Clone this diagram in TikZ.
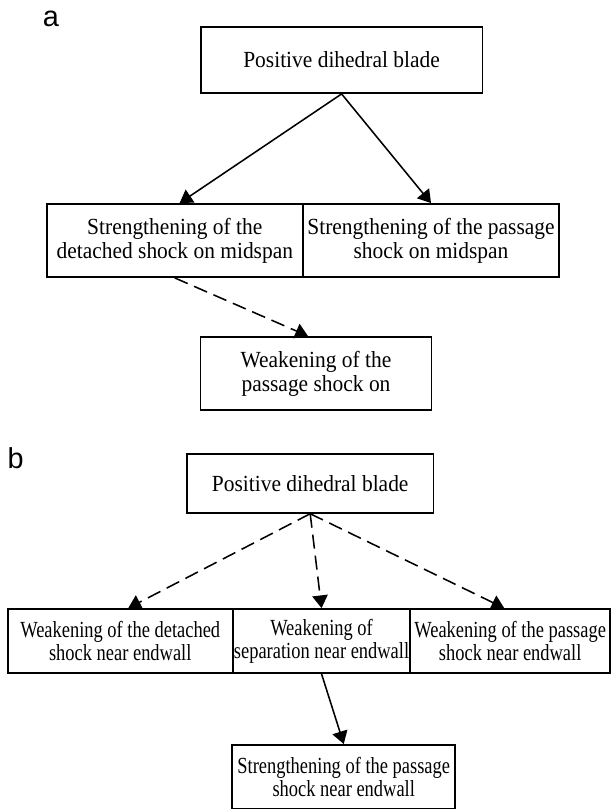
\documentclass[tikz,border=0pt]{standalone}
\usepackage{fontspec}
\setmainfont{Liberation Serif}
\newfontfamily\boxserif[FakeStretch=0.93]{Liberation Serif}
\newfontfamily\narrowserif[FakeStretch=0.8]{Liberation Serif}
\newfontfamily\panelfont{Liberation Sans}
\usetikzlibrary{arrows.meta}

\begin{document}
\begin{tikzpicture}[x=0.025cm, y=-0.025cm,
    box/.style={draw, line width=1.3pt, inner sep=0, align=center,
                font=\boxserif\fontsize{16.4}{17.2}\selectfont},
    boxb/.style={box, font=\narrowserif\fontsize{16.4}{16.6}\selectfont},
    link/.style={line width=1.1pt, -{Triangle[length=9pt, width=11pt]}},
    dashlink/.style={link, dash pattern=on 10pt off 5pt},
    panel/.style={font=\panelfont\fontsize{20.5}{24}\selectfont}]
\useasboundingbox (0,0) rectangle (611,810);

\node[panel] (pa) at (51,19) {a};
\node[box, minimum width=7.045cm, minimum height=1.65cm] (blade) at (341.6,60)
    {Positive dihedral blade};
\node[box, minimum width=6.4cm, minimum height=1.825cm] (detshock) at (174.8,240.5)
    {Strengthening of the\\detached shock on midspan};
\node[box, minimum width=6.41cm, minimum height=1.825cm] (passshock) at (431,240.5)
    {Strengthening of the passage\\shock on midspan};
\node[box, minimum width=5.77cm, minimum height=1.825cm] (weakpass) at (316,373.5)
    {Weakening of the\\passage shock on};
\draw[link] (blade.south) -- ([xshift=0.12cm]detshock.north);
\draw[link] (blade.south) -- (passshock.north);
\draw[dashlink] (detshock.south) -- ([xshift=-0.2cm]weakpass.north);

\node[panel] (pb) at (15.6,458) {b};
\node[box, minimum width=6.16cm, minimum height=1.47cm] (bladeb) at (310.2,483.4)
    {Positive dihedral blade};
\node[boxb, minimum width=5.62cm, minimum height=1.6cm] (detnear) at (120.25,641)
    {Weakening of the detached\\shock near endwall};
\node[boxb, minimum width=4.44cm, minimum height=1.6cm] (sepnear) at (321.55,641)
    {Weakening of\\separation near endwall};
\node[boxb, minimum width=4.99cm, minimum height=1.6cm] (passnear) at (510.2,641)
    {Weakening of the passage\\shock near endwall};
\node[boxb, minimum width=5.57cm, minimum height=1.59cm] (strongnear) at (343.75,776.7)
    {Strengthening of the passage\\shock near endwall};
\draw[dashlink] (bladeb.south) -- ([xshift=0.2cm]detnear.north);
\draw[dashlink] (bladeb.south) -- (sepnear.north);
\draw[dashlink] (bladeb.south) -- ([xshift=-0.15cm]passnear.north);
\draw[link] (sepnear.south) -- (strongnear.north);
\end{tikzpicture}
\end{document}
